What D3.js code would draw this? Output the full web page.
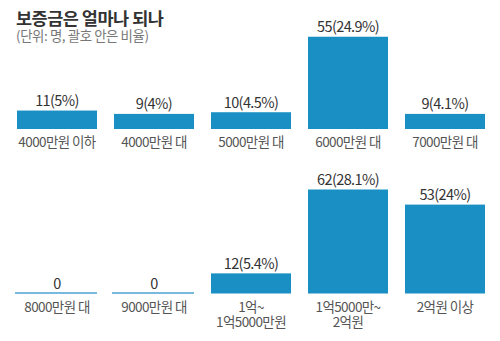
<!DOCTYPE html>
<html><head><meta charset="utf-8">
<script src="https://cdn.jsdelivr.net/npm/d3@7"></script>
<style>
body{margin:0;background:#fff;}
svg{display:block;font-family:"Noto Sans CJK KR","Noto Sans",sans-serif;}
</style></head>
<body>
<svg id="c" width="500" height="341"></svg>
<script>
const title = "보증금은 얼마나 되나";
const subtitle = "(단위: 명, 괄호 안은 비율)";
const row1Categories = [["4000만원 이하"],["4000만원 대"],["5000만원 대"],["6000만원 대"],["7000만원 대"]];
const row1Counts = [11, 9, 10, 55, 9];
const row1Pcts = ["5", "4", "4.5", "24.9", "4.1"];
const row2Categories = [["8000만원 대"],["9000만원 대"],["1억~","1억5000만원"],["1억5000만~","2억원"],["2억원 이상"]];
const row2Counts = [0, 0, 12, 62, 53];
const row2Pcts = [null, null, "5.4", "28.1", "24"];

const svg = d3.select("#c");
const barColor = "#1a8fc4";

svg.append("text").attr("x",16).attr("y",25).attr("font-size",17.5).attr("font-weight",700)
  .attr("fill","#333").attr("letter-spacing","-0.5").text(title);
svg.append("text").attr("x",16).attr("y",40.5).attr("font-size",13.4)
  .attr("fill","#777").attr("letter-spacing","-0.4").text(subtitle);

const y = d3.scaleLinear().domain([0, 62]).range([0, 104]);

function drawRow(cats, counts, pcts, baseline){
  const idx = d3.range(cats.length);
  const x = d3.scaleBand().domain(idx).range([17 - 8.5, 485 + 8.5]).paddingInner(0.175).paddingOuter(0.0875);
  const g = svg.append("g");
  idx.forEach(i=>{
    const h = y(counts[i]);
    if (counts[i] > 0) {
      g.append("rect").attr("x", x(i)).attr("y", baseline - h)
        .attr("width", x.bandwidth()).attr("height", h).attr("fill", barColor);
    } else {
      g.append("line").attr("x1", x(i)-2).attr("x2", x(i)+x.bandwidth())
        .attr("y1", baseline-0.5).attr("y2", baseline-0.5)
        .attr("stroke", "#4aa3d3").attr("stroke-width", 1.5);
    }
    const cx = x(i) + x.bandwidth()/2;
    const lbl = pcts[i] == null ? String(counts[i]) : counts[i] + "(" + pcts[i] + "%)";
    g.append("text").attr("x", cx).attr("y", baseline - h - 4.5)
      .attr("text-anchor","middle").attr("font-size",14.5).attr("fill","#333")
      .attr("letter-spacing","-0.6").text(lbl);
    cats[i].forEach((line, k)=>{
      g.append("text").attr("x", cx).attr("y", baseline + 18 + k*15.5)
        .attr("text-anchor","middle").attr("font-size",13.5).attr("fill","#555")
        .attr("letter-spacing","-0.6").text(line);
    });
  });
}
drawRow(row1Categories, row1Counts, row1Pcts, 129);
drawRow(row2Categories, row2Counts, row2Pcts, 293.5);
</script>
</body></html>
